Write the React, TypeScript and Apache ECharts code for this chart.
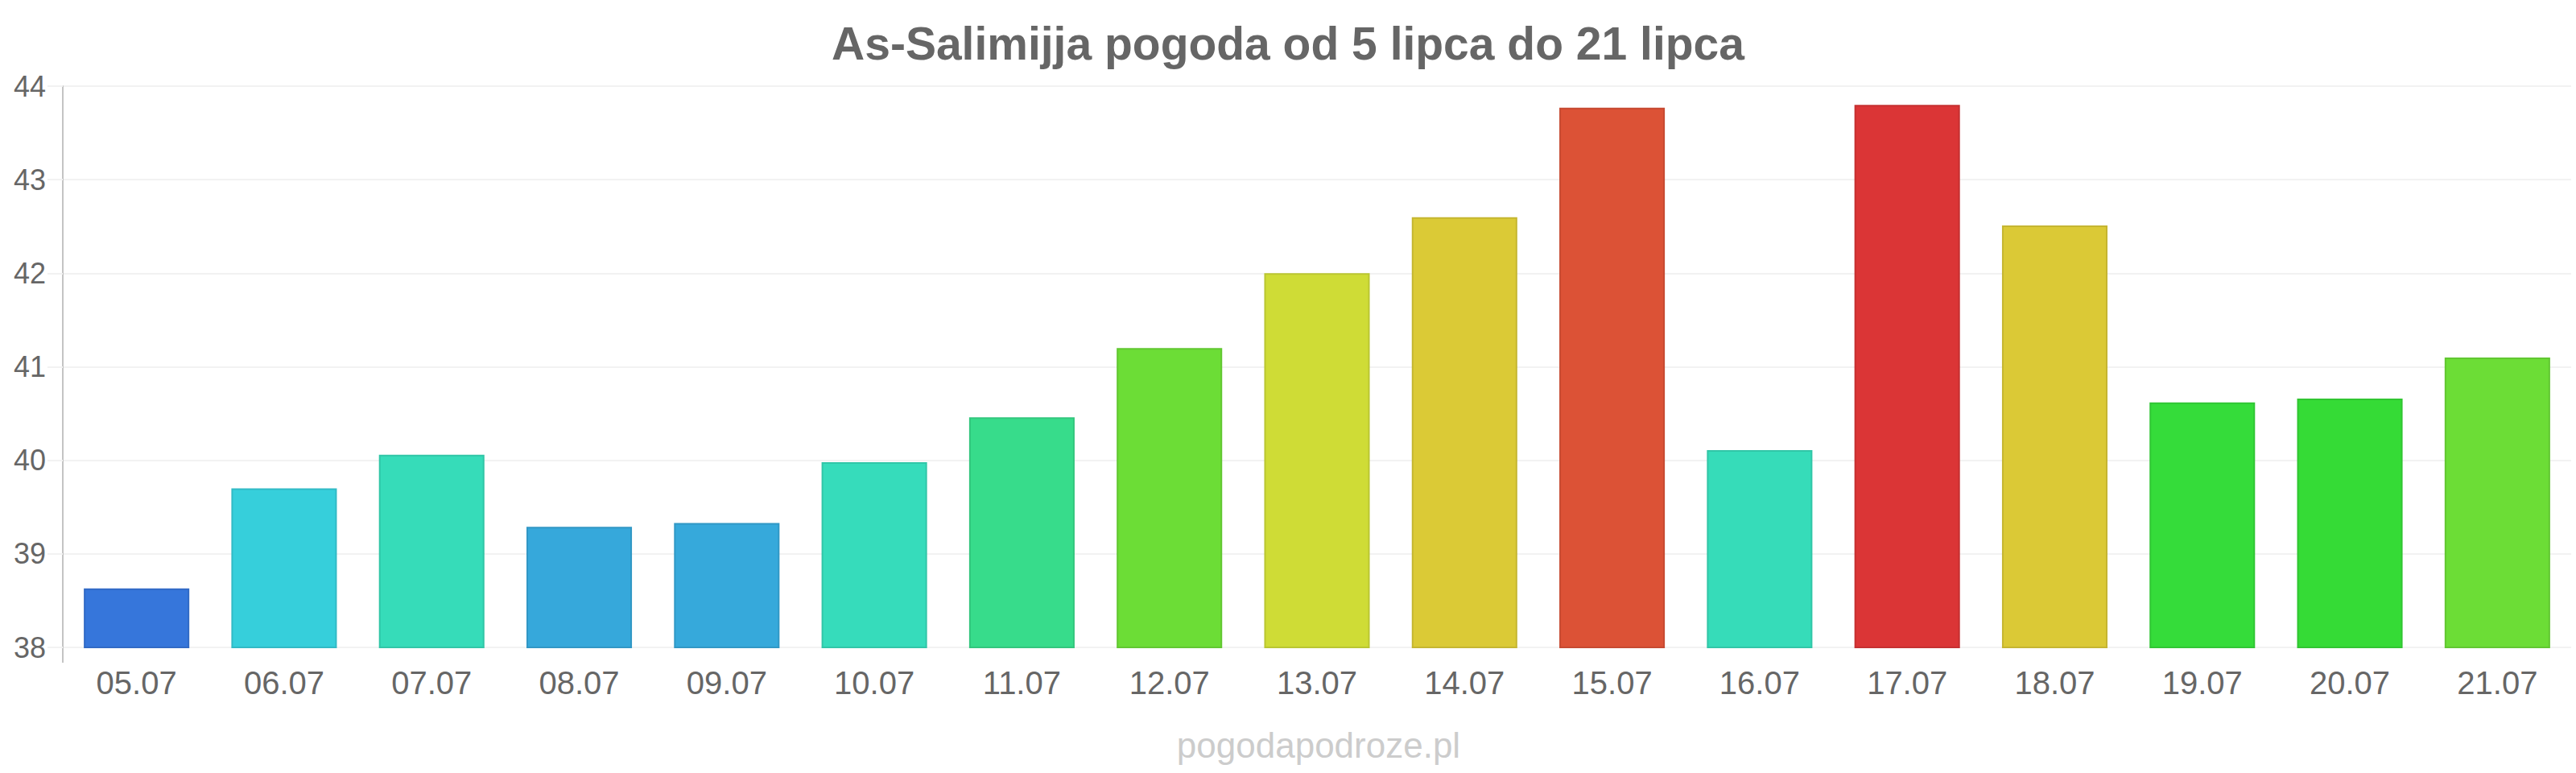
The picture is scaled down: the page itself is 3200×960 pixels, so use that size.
import React, { useEffect, useRef } from "react";
import * as echarts from "echarts";

// Daily maximum temperatures (°C), 5–21 July
const categories = [
  "05.07", "06.07", "07.07", "08.07", "09.07", "10.07", "11.07", "12.07", "13.07",
  "14.07", "15.07", "16.07", "17.07", "18.07", "19.07", "20.07", "21.07",
];
const temps = [
  38.63, 39.7, 40.06, 39.29, 39.33, 39.98, 40.46, 41.2, 42.0,
  42.6, 43.77, 40.11, 43.8, 42.51, 40.62, 40.66, 41.1,
];
const barColors = [
  "#3676db", "#36cfdb", "#36dcb9", "#36a8db", "#36a9db", "#36dcbb", "#37dc8b", "#6cdd36", "#cfdc36",
  "#dbca36", "#dc5236", "#36dcb9", "#db3536", "#dbc936", "#35dc3a", "#35db36", "#6cdd36",
];
const yMin = 38;
const yMax = 44;
const yStep = 1;

const titleText = "As-Salimijja pogoda od 5 lipca do 21 lipca";
const sourceText = "pogodapodroze.pl";

const FONT = "'Liberation Sans', Arial, sans-serif";

// Slightly darker outline for each bar
function darken(hex: string, f: number): string {
  const n = parseInt(hex.slice(1), 16);
  const r = Math.round(((n >> 16) & 255) * f);
  const g = Math.round(((n >> 8) & 255) * f);
  const b = Math.round((n & 255) * f);
  return `rgb(${r},${g},${b})`;
}

export default function App() {
  const ref = useRef<HTMLDivElement>(null);

  useEffect(() => {
    if (!ref.current) return;
    const chart = echarts.init(ref.current, undefined, { renderer: "svg" });

    const width = 3200;
    const height = 960;
    const gridLeft = 78;
    const gridRight = 6;
    const gridTop = 107;
    const gridBottom = 156;
    const tickLen = 19;
    const axisGray = "#c4c4c4";
    const gridGray = "#f2f2f2";

    chart.setOption({
      animation: false,
      backgroundColor: "#ffffff",
      title: [
        {
          text: titleText,
          left: "center",
          top: 20,
          textStyle: {
            fontFamily: FONT,
            fontSize: 57,
            fontWeight: "bold",
            color: "#666666",
          },
        },
        {
          text: sourceText,
          left: (gridLeft + width - gridRight) / 2 - 3,
          textAlign: "center",
          top: 898,
          textStyle: {
            fontFamily: FONT,
            fontSize: 44,
            fontWeight: "normal",
            color: "#cccccc",
          },
        },
      ],
      grid: {
        left: gridLeft,
        right: gridRight,
        top: gridTop,
        bottom: gridBottom,
        containLabel: false,
      },
      // the value axis line runs a tick's length below the plot area
      graphic: [
        {
          type: "line",
          silent: true,
          shape: {
            x1: gridLeft,
            y1: height - gridBottom,
            x2: gridLeft,
            y2: height - gridBottom + tickLen,
          },
          style: { stroke: axisGray, lineWidth: 2 },
        },
      ],
      xAxis: {
        type: "category",
        data: categories,
        boundaryGap: true,
        axisLine: { show: false },
        axisTick: { show: false },
        axisLabel: {
          fontFamily: FONT,
          fontSize: 40,
          color: "#666666",
          margin: 24,
          interval: 0,
        },
        splitLine: { show: false },
      },
      yAxis: {
        type: "value",
        min: yMin,
        max: yMax,
        interval: yStep,
        axisLine: { show: true, lineStyle: { color: axisGray, width: 2 } },
        axisTick: {
          show: true,
          length: tickLen,
          lineStyle: { color: gridGray, width: 2 },
        },
        axisLabel: {
          fontFamily: FONT,
          fontSize: 36,
          color: "#666666",
          margin: 21,
        },
        splitLine: { show: true, lineStyle: { color: gridGray, width: 2 } },
      },
      series: [
        {
          type: "bar",
          data: temps.map((v, i) => ({
            value: v,
            itemStyle: {
              color: barColors[i],
              borderColor: darken(barColors[i], 0.9),
              borderWidth: 2,
            },
          })),
          barWidth: "71.5%",
        },
      ],
    });

    return () => chart.dispose();
  }, []);

  return (
    <div
      ref={ref}
      style={{ position: "fixed", left: 0, top: 0, width: "3200px", height: "960px" }}
    />
  );
}
